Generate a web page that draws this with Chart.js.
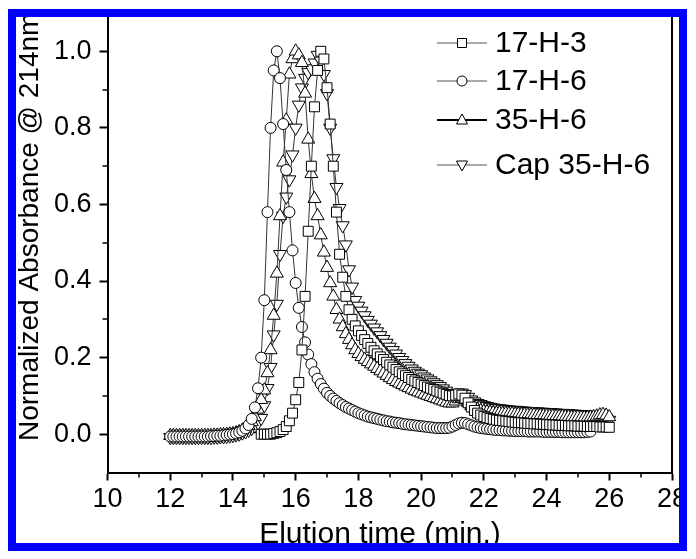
<!DOCTYPE html>
<html>
<head>
<meta charset="utf-8">
<script src="https://cdn.jsdelivr.net/npm/chart.js@4.4.0/dist/chart.umd.min.js"></script>
<style>
  html, body { margin: 0; padding: 0; background: #fff; }
  #frame { position: absolute; left: 8px; top: 9px; width: 679px; height: 542px; box-sizing: border-box; border: 8px solid #0000ff; overflow: hidden; background: #fff; }
  #chart { position: absolute; left: -16px; top: -17px; }
</style>
</head>
<body>
<div id="frame"><canvas id="chart" width="696" height="559"></canvas></div>
<script>
var seriesNames = ["17-H-3", "17-H-6", "35-H-6", "Cap 35-H-6"];
var xTitle = "Elution time (min.)";
var yTitle = "Normalized Absorbance @ 214nm";

var times = [
  12.0, 12.1, 12.2, 12.3, 12.4, 12.5, 12.6, 12.7, 12.8, 12.9,
  13.0, 13.1, 13.2, 13.3, 13.4, 13.5, 13.6, 13.7, 13.8, 13.9,
  14.0, 14.1, 14.2, 14.3, 14.4, 14.5, 14.6, 14.7, 14.8, 14.9,
  15.0, 15.1, 15.2, 15.3, 15.4, 15.5, 15.6, 15.7, 15.8, 15.9,
  16.0, 16.1, 16.2, 16.3, 16.4, 16.5, 16.6, 16.7, 16.8, 16.9,
  17.0, 17.1, 17.2, 17.3, 17.4, 17.5, 17.6, 17.7, 17.8, 17.9,
  18.0, 18.1, 18.2, 18.3, 18.4, 18.5, 18.6, 18.7, 18.8, 18.9,
  19.0, 19.1, 19.2, 19.3, 19.4, 19.5, 19.6, 19.7, 19.8, 19.9,
  20.0, 20.1, 20.2, 20.3, 20.4, 20.5, 20.6, 20.7, 20.8, 20.9,
  21.0, 21.1, 21.2, 21.3, 21.4, 21.5, 21.6, 21.7, 21.8, 21.9,
  22.0, 22.1, 22.2, 22.3, 22.4, 22.5, 22.6, 22.7, 22.8, 22.9,
  23.0, 23.1, 23.2, 23.3, 23.4, 23.5, 23.6, 23.7, 23.8, 23.9,
  24.0, 24.1, 24.2, 24.3, 24.4, 24.5, 24.6, 24.7, 24.8, 24.9,
  25.0, 25.1, 25.2, 25.3, 25.4, 25.5, 25.6, 25.7, 25.8, 25.9,
  26.0
];

// 17-H-3 (squares)
var h17_3 = [
  null, null, null, null, null, null, null, null, null, null,
  null, null, null, null, null, null, null, null, null, null,
  null, null, null, null, null, null, null, null, null, 0.0,
  0.0, 0.0, 0.0, 0.002, 0.004, 0.007, 0.012, 0.02, 0.035, 0.055,
  0.09, 0.135, 0.22, 0.36, 0.53, 0.7, 0.855, 0.95, 1.0, 0.98,
  0.905, 0.81, 0.7, 0.58, 0.47, 0.41, 0.36, 0.325, 0.3, 0.283,
  0.27, 0.258, 0.247, 0.237, 0.227, 0.218, 0.21, 0.202, 0.195, 0.188,
  0.181, 0.175, 0.169, 0.163, 0.158, 0.153, 0.148, 0.143, 0.139, 0.135,
  0.131, 0.127, 0.123, 0.12, 0.117, 0.113, 0.11, 0.107, 0.104, 0.101,
  0.1, 0.102, 0.105, 0.102, 0.094, 0.082, 0.071, 0.062, 0.055, 0.05,
  0.046, 0.043, 0.041, 0.039, 0.037, 0.036, 0.035, 0.034, 0.033, 0.032,
  0.031, 0.03, 0.03, 0.029, 0.028, 0.028, 0.027, 0.027, 0.026, 0.026,
  0.025, 0.025, 0.024, 0.024, 0.023, 0.023, 0.023, 0.022, 0.022, 0.022,
  0.021, 0.021, 0.021, 0.02, 0.02, 0.02, 0.02, 0.019, 0.019, 0.019,
  0.018
];

// 17-H-6 (circles)
var h17_6 = [
  -0.006, -0.006, -0.006, -0.006, -0.006, -0.006, -0.006, -0.006, -0.006, -0.006,
  -0.006, -0.006, -0.006, -0.005, -0.005, -0.004, -0.004, -0.003, -0.002, -0.001,
  0.0, 0.002, 0.005, 0.009, 0.015, 0.024, 0.04, 0.07, 0.12, 0.2,
  0.35, 0.58, 0.8, 0.95, 1.0, 0.93, 0.81, 0.69, 0.58, 0.48,
  0.395, 0.33, 0.28, 0.24, 0.208, 0.183, 0.162, 0.145, 0.131, 0.119,
  0.108, 0.1, 0.093, 0.087, 0.081, 0.076, 0.071, 0.067, 0.063, 0.059,
  0.055, 0.052, 0.049, 0.046, 0.044, 0.042, 0.04, 0.038, 0.036, 0.034,
  0.033, 0.031, 0.03, 0.029, 0.027, 0.026, 0.025, 0.024, 0.023, 0.022,
  0.021, 0.02, 0.019, 0.018, 0.017, 0.016, 0.016, 0.016, 0.016, 0.017,
  0.02, 0.024, 0.028, 0.03, 0.029, 0.026, 0.023, 0.02, 0.018, 0.016,
  0.015, 0.014, 0.013, 0.012, 0.011, 0.011, 0.01, 0.01, 0.009, 0.009,
  0.008, 0.008, 0.008, 0.008, 0.007, 0.007, 0.007, 0.007, 0.007, 0.006,
  0.006, 0.006, 0.006, 0.006, 0.006, 0.005, 0.005, 0.005, 0.005, 0.005,
  0.005, 0.005, 0.005, 0.006, 0.007, null, null, null, null, null,
  null
];

// 35-H-6 (triangles)
var h35_6 = [
  -0.004, -0.004, -0.004, -0.004, -0.004, -0.004, -0.004, -0.004, -0.004, -0.004,
  -0.004, -0.004, -0.004, -0.004, -0.003, -0.003, -0.002, -0.002, -0.001, 0.0,
  0.001, 0.003, 0.006, 0.01, 0.015, 0.022, 0.032, 0.045, 0.065, 0.09,
  0.115, 0.16, 0.22, 0.31, 0.42, 0.57, 0.71, 0.82, 0.94, 0.98,
  1.0, 0.99, 0.97, 0.89, 0.77, 0.68, 0.615, 0.57, 0.52, 0.475,
  0.435, 0.395, 0.36, 0.325, 0.3, 0.28, 0.262, 0.247, 0.233, 0.22,
  0.21, 0.202, 0.195, 0.189, 0.183, 0.177, 0.171, 0.165, 0.159, 0.153,
  0.147, 0.142, 0.137, 0.133, 0.129, 0.125, 0.121, 0.117, 0.113, 0.11,
  0.107, 0.104, 0.101, 0.098, 0.095, 0.092, 0.089, 0.086, 0.083, 0.081,
  0.081, 0.086, 0.092, 0.094, 0.09, 0.082, 0.074, 0.068, 0.064, 0.061,
  0.059, 0.058, 0.057, 0.056, 0.055, 0.055, 0.054, 0.054, 0.053, 0.053,
  0.052, 0.052, 0.051, 0.051, 0.05, 0.05, 0.05, 0.049, 0.049, 0.048,
  0.048, 0.047, 0.047, 0.046, 0.046, 0.046, 0.045, 0.045, 0.044, 0.044,
  0.044, 0.043, 0.043, 0.043, 0.044, 0.045, 0.047, 0.05, 0.051, 0.049,
  0.045
];

// Cap 35-H-6 (inverted triangles)
var cap35_6 = [
  -0.008, -0.008, -0.008, -0.008, -0.008, -0.008, -0.008, -0.008, -0.008, -0.008,
  -0.008, -0.008, -0.008, -0.008, -0.007, -0.007, -0.006, -0.006, -0.005, -0.004,
  -0.003, -0.001, 0.001, 0.004, 0.007, 0.011, 0.016, 0.022, 0.03, 0.042,
  0.075, 0.12, 0.175, 0.26, 0.34, 0.47, 0.57, 0.62, 0.665, 0.73,
  0.8, 0.86, 0.905, 0.93, 0.945, 0.955, 0.97, 0.99, 0.975, 0.94,
  0.89, 0.8, 0.72, 0.645, 0.59, 0.545, 0.495, 0.43, 0.385, 0.35,
  0.335, 0.322, 0.31, 0.298, 0.288, 0.278, 0.268, 0.258, 0.248, 0.238,
  0.228, 0.219, 0.21, 0.201, 0.193, 0.185, 0.178, 0.171, 0.165, 0.16,
  0.156, 0.15, 0.145, 0.14, 0.135, 0.13, 0.125, 0.119, 0.113, 0.107,
  0.104, 0.105, 0.108, 0.108, 0.104, 0.097, 0.09, 0.085, 0.081, 0.078,
  0.075, 0.073, 0.071, 0.069, 0.068, 0.067, 0.066, 0.065, 0.064, 0.063,
  0.063, 0.062, 0.061, 0.061, 0.06, 0.06, 0.059, 0.059, 0.058, 0.058,
  0.057, 0.057, 0.056, 0.056, 0.055, 0.055, 0.054, 0.054, 0.053, 0.053,
  0.052, 0.052, 0.051, 0.051, 0.05, 0.05, 0.049, 0.048, 0.046, 0.042,
  0.037
];

var xTicks = [10, 12, 14, 16, 18, 20, 22, 24, 26, 28];
var xMinorTicks = [11, 13, 15, 17, 19, 21, 23, 25, 27];
var yTicks = [0.0, 0.2, 0.4, 0.6, 0.8, 1.0];
var yMinorTicks = [0.1, 0.3, 0.5, 0.7, 0.9];

var fontFamily = "'Liberation Sans', Arial, sans-serif";
Chart.defaults.font.family = fontFamily;
Chart.defaults.color = "#000";

function toPoints(values) {
  var pts = [];
  for (var i = 0; i < times.length; i++) {
    if (values[i] !== null) pts.push({ x: times[i], y: values[i] });
  }
  return pts;
}

function makeSet(name, values, style, radius, rotation) {
  return {
    label: name,
    data: toPoints(values),
    borderColor: "#333",
    borderWidth: 1,
    pointStyle: style,
    pointRadius: radius,
    pointRotation: rotation,
    pointBackgroundColor: "#fff",
    pointBorderColor: "#000",
    pointBorderWidth: 1,
    tension: 0
  };
}

// marker for the legend
function drawMarker(ctx, style, x, y) {
  ctx.beginPath();
  if (style === "rect") {
    ctx.rect(x - 4.5, y - 4.5, 9, 9);
  } else if (style === "circle") {
    ctx.arc(x, y, 5, 0, Math.PI * 2);
  } else if (style === "up") {
    ctx.moveTo(x, y - 6);
    ctx.lineTo(x + 5.5, y + 4);
    ctx.lineTo(x - 5.5, y + 4);
    ctx.closePath();
  } else {
    ctx.moveTo(x, y + 6);
    ctx.lineTo(x + 5.5, y - 4);
    ctx.lineTo(x - 5.5, y - 4);
    ctx.closePath();
  }
  ctx.fillStyle = "#fff";
  ctx.fill();
  ctx.lineWidth = 1;
  ctx.strokeStyle = "#000";
  ctx.stroke();
}

var framePlugin = {
  id: "framePlugin",
  afterDraw: function (chart) {
    var ctx = chart.ctx;
    var a = chart.chartArea;
    var xs = chart.scales.x;
    var ys = chart.scales.y;
    ctx.save();
    ctx.strokeStyle = "#000";
    // right and top frame lines
    ctx.lineWidth = 2;
    ctx.beginPath();
    ctx.moveTo(a.left, a.top);
    ctx.lineTo(a.right, a.top);
    ctx.lineTo(a.right, a.bottom);
    ctx.stroke();
    // minor ticks
    ctx.lineWidth = 1.5;
    ctx.beginPath();
    xMinorTicks.forEach(function (v) {
      var px = Math.round(xs.getPixelForValue(v));
      ctx.moveTo(px, a.bottom);
      ctx.lineTo(px, a.bottom + 5);
    });
    yMinorTicks.forEach(function (v) {
      var py = Math.round(ys.getPixelForValue(v));
      ctx.moveTo(a.left, py);
      ctx.lineTo(a.left - 5, py);
    });
    ctx.stroke();

    // axis titles
    ctx.fillStyle = "#000";
    ctx.font = "30px " + fontFamily;
    ctx.textAlign = "center";
    ctx.textBaseline = "alphabetic";
    ctx.fillText(xTitle, 380, 543);
    ctx.save();
    ctx.translate(38, 441);
    ctx.rotate(-Math.PI / 2);
    ctx.font = "28px " + fontFamily;
    ctx.textAlign = "left";
    ctx.fillText(yTitle, 0, 0);
    ctx.restore();

    // legend
    var rowsY = [43, 81, 120, 165];
    var styles = ["rect", "circle", "up", "down"];
    ctx.font = "30px " + fontFamily;
    ctx.textBaseline = "middle";
    ctx.textAlign = "left";
    for (var i = 0; i < seriesNames.length; i++) {
      var y = rowsY[i];
      ctx.beginPath();
      ctx.strokeStyle = i === 2 ? "#000" : "#555";
      ctx.lineWidth = i === 2 ? 2 : 1;
      ctx.moveTo(437, y);
      ctx.lineTo(487, y);
      ctx.stroke();
      drawMarker(ctx, styles[i], 462, y);
      ctx.fillStyle = "#000";
      ctx.fillText(seriesNames[i], 495, y + 1);
    }
    ctx.restore();
  }
};

var chart = new Chart(document.getElementById("chart").getContext("2d"), {
  type: "line",
  data: {
    datasets: [
      makeSet(seriesNames[0], h17_3, "rect", 7, 0),
      makeSet(seriesNames[1], h17_6, "circle", 5.5, 0),
      makeSet(seriesNames[2], h35_6, "triangle", 7.5, 0),
      makeSet(seriesNames[3], cap35_6, "triangle", 7.5, 180)
    ]
  },
  options: {
    responsive: false,
    animation: false,
    devicePixelRatio: 1,
    layout: { padding: { left: 0, right: 24, top: 13, bottom: 0 } },
    plugins: {
      legend: { display: false },
      tooltip: { enabled: false }
    },
    scales: {
      x: {
        type: "linear",
        min: 10,
        max: 28,
        afterBuildTicks: function (s) {
          s.ticks = xTicks.map(function (v) { return { value: v }; });
        },
        afterFit: function (s) {
          s.height = 86.5;
          s.paddingLeft = 0;
          s.paddingRight = 0;
        },
        grid: { drawOnChartArea: false, drawTicks: true, tickLength: 8, tickWidth: 2, tickColor: "#000" },
        border: { display: true, color: "#000", width: 2 },
        ticks: {
          color: "#000",
          font: { size: 27 },
          padding: 3,
          maxRotation: 0,
          autoSkip: false,
          callback: function (v) { return v; }
        }
      },
      y: {
        type: "linear",
        min: -0.1,
        max: 1.1,
        afterBuildTicks: function (s) {
          s.ticks = yTicks.map(function (v) { return { value: v }; });
        },
        afterFit: function (s) {
          s.width = 107.5;
          s.paddingTop = 0;
          s.paddingBottom = 0;
        },
        grid: { drawOnChartArea: false, drawTicks: true, tickLength: 8, tickWidth: 2, tickColor: "#000" },
        border: { display: true, color: "#000", width: 2 },
        ticks: {
          color: "#000",
          font: { size: 27 },
          padding: 8,
          callback: function (v) { return v.toFixed(1); }
        }
      }
    }
  },
  plugins: [framePlugin]
});
</script>
</body>
</html>
